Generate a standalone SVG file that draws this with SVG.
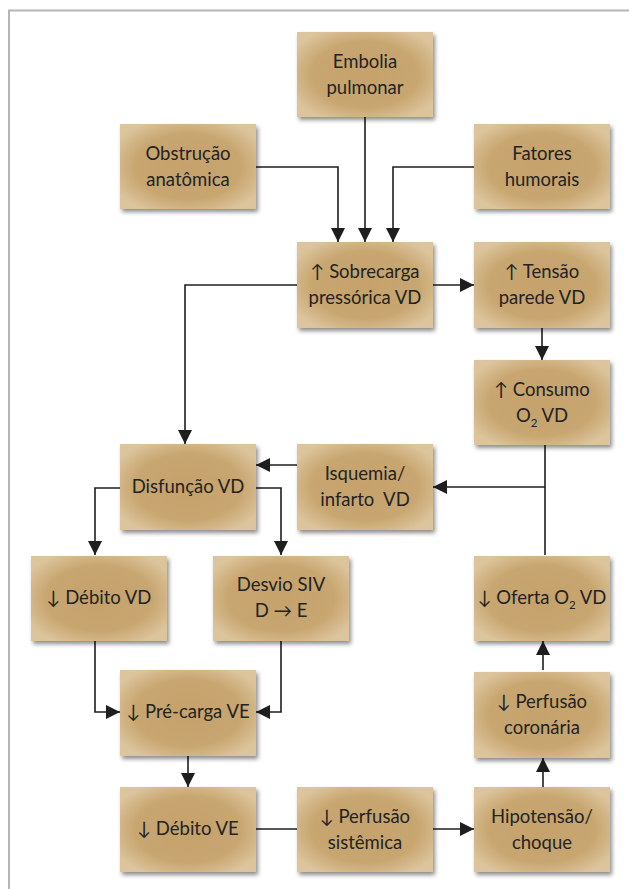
<svg xmlns="http://www.w3.org/2000/svg" width="629" height="889" viewBox="0 0 629 889">
  <defs>
    <radialGradient id="boxFill" cx="50%" cy="50%" r="60%">
      <stop offset="0%" stop-color="#c5a26c"/>
      <stop offset="65%" stop-color="#c8a670"/>
      <stop offset="100%" stop-color="#dcc49c"/>
    </radialGradient>
    <filter id="shadow" x="-10%" y="-10%" width="125%" height="130%">
      <feDropShadow dx="2" dy="3" stdDeviation="2" flood-color="#000" flood-opacity="0.45"/>
    </filter>
    <marker id="arrow" markerUnits="userSpaceOnUse" markerWidth="14" markerHeight="14" viewBox="0 0 12 12" refX="12" refY="6" orient="auto">
      <path d="M0,0 L12,6 L0,12 Z" fill="#1e1e1e"/>
    </marker>
  </defs>
  <style>
    .frame { fill: none; stroke: #b5b5b5; stroke-width: 2; }
    .box rect { fill: url(#boxFill); filter: url(#shadow); }
    .box text { font-family: Lato, "Open Sans", "Liberation Sans", sans-serif; font-size: 18.5px; fill: #232323; text-anchor: middle; }
    .sub { font-size: 11.5px; }
    .edges path { fill: none; stroke: #1e1e1e; stroke-width: 1.6; }
    .edges path.a { marker-end: url(#arrow); }
  </style>

  <rect width="629" height="889" fill="#ffffff"/>
  <path class="frame" d="M9,889 V10.5 H629"/>

  <!-- connectors -->
  <g class="edges">
    <path class="a" d="M365,117 V242"/>
    <path class="a" d="M256,167 H338 V242"/>
    <path class="a" d="M474,167 H393 V242"/>
    <path class="a" d="M433,285 H474"/>
    <path class="a" d="M297,285 H185 V444"/>
    <path class="a" d="M542,328 V360"/>
    <path d="M545,445 V555"/>
    <path class="a" d="M545,487 H433"/>
    <path class="a" d="M297,465 H256"/>
    <path class="a" d="M120,488 H95 V555"/>
    <path class="a" d="M256,488 H281 V555"/>
    <path class="a" d="M95,640 V712 H120"/>
    <path class="a" d="M281,640 V712 H256"/>
    <path class="a" d="M188,755 V787"/>
    <path d="M256,829 H297"/>
    <path class="a" d="M433,829 H474"/>
    <path class="a" d="M543,787 V758"/>
    <path class="a" d="M543,670 V641"/>
  </g>

  <!-- nodes -->
  <g id="embolia" class="box">
    <rect x="297" y="32" width="136" height="85"/>
    <text x="365" y="68">Embolia</text>
    <text x="365" y="94">pulmonar</text>
  </g>
  <g id="obstrucao" class="box">
    <rect x="120" y="124" width="136" height="85"/>
    <text x="188" y="160">Obstrução</text>
    <text x="188" y="186">anatômica</text>
  </g>
  <g id="fatores" class="box">
    <rect x="474" y="124" width="136" height="85"/>
    <text x="542" y="160">Fatores</text>
    <text x="542" y="186">humorais</text>
  </g>
  <g id="sobrecarga" class="box">
    <rect x="297" y="242" width="136" height="86"/>
    <text x="365" y="278">↑ Sobrecarga</text>
    <text x="365" y="304">pressórica VD</text>
  </g>
  <g id="tensao" class="box">
    <rect x="474" y="242" width="136" height="86"/>
    <text x="542" y="278">↑ Tensão</text>
    <text x="542" y="304">parede VD</text>
  </g>
  <g id="consumo" class="box">
    <rect x="474" y="360" width="136" height="85"/>
    <text x="542" y="396">↑ Consumo</text>
    <text x="542" y="422">O<tspan class="sub" dy="5">2</tspan><tspan dy="-5"> VD</tspan></text>
  </g>
  <g id="disfuncao" class="box">
    <rect x="120" y="444" width="136" height="86"/>
    <text x="188" y="493">Disfunção VD</text>
  </g>
  <g id="isquemia" class="box">
    <rect x="297" y="444" width="136" height="86"/>
    <text x="365" y="480">Isquemia/</text>
    <text x="365" y="506" xml:space="preserve">infarto  VD</text>
  </g>
  <g id="debito-vd" class="box">
    <rect x="31" y="556" width="136" height="85"/>
    <text x="99" y="604">↓ Débito VD</text>
  </g>
  <g id="desvio" class="box">
    <rect x="213" y="556" width="136" height="85"/>
    <text x="281" y="591">Desvio SIV</text>
    <text x="281" y="617">D → E</text>
  </g>
  <g id="oferta" class="box">
    <rect x="474" y="556" width="136" height="85"/>
    <text x="542" y="604">↓ Oferta O<tspan class="sub" dy="5">2</tspan><tspan dy="-5"> VD</tspan></text>
  </g>
  <g id="precarga" class="box">
    <rect x="120" y="670" width="136" height="86"/>
    <text x="188" y="718">↓ Pré-carga VE</text>
  </g>
  <g id="perfusao-coronaria" class="box">
    <rect x="474" y="672" width="136" height="86"/>
    <text x="542" y="708">↓ Perfusão</text>
    <text x="542" y="734">coronária</text>
  </g>
  <g id="debito-ve" class="box">
    <rect x="120" y="787" width="136" height="85"/>
    <text x="188" y="835">↓ Débito VE</text>
  </g>
  <g id="perfusao-sistemica" class="box">
    <rect x="297" y="787" width="136" height="85"/>
    <text x="365" y="823">↓ Perfusão</text>
    <text x="365" y="849">sistêmica</text>
  </g>
  <g id="hipotensao" class="box">
    <rect x="474" y="787" width="136" height="85"/>
    <text x="542" y="823">Hipotensão/</text>
    <text x="542" y="849">choque</text>
  </g>
</svg>
